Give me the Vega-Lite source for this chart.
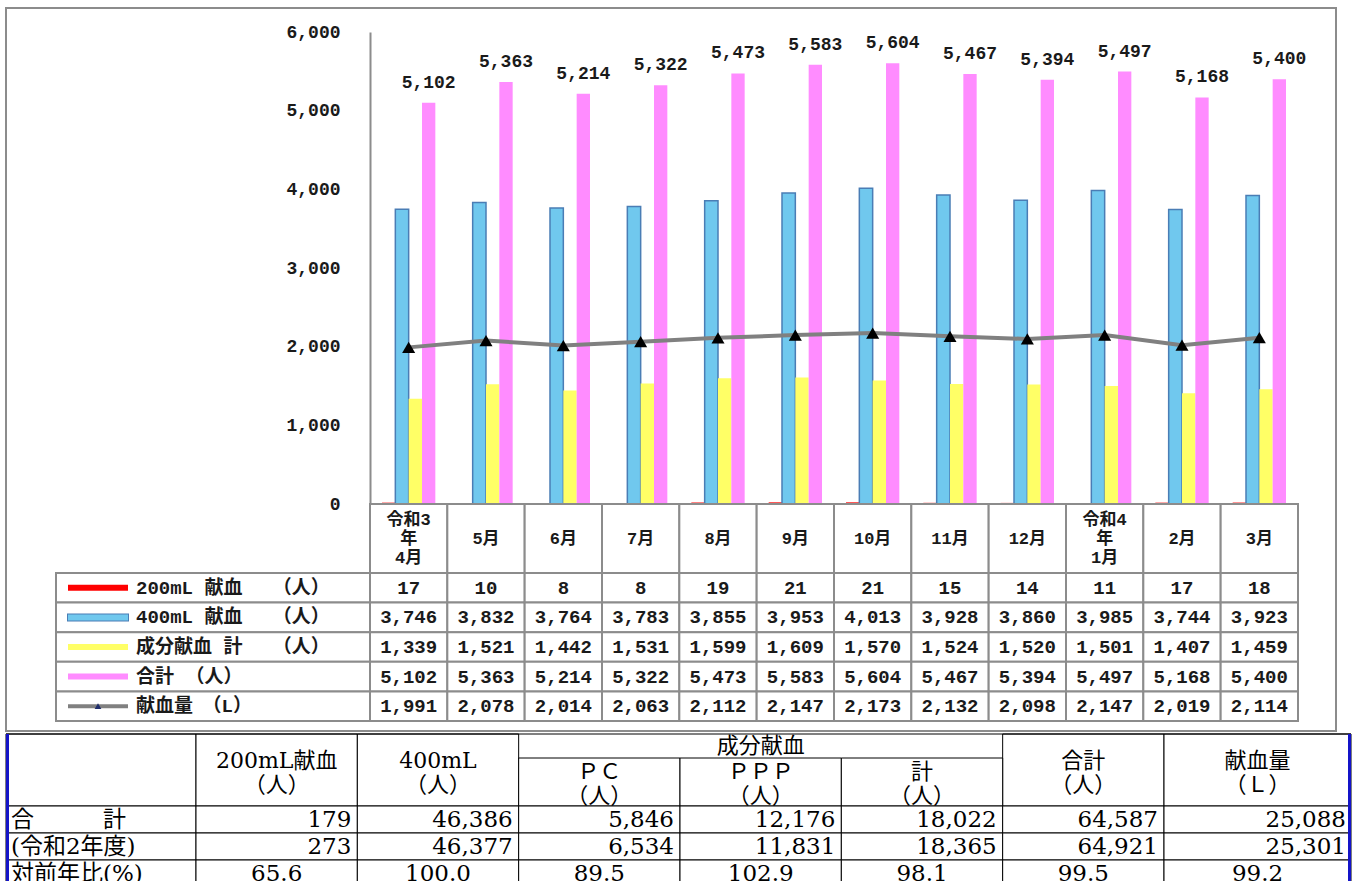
{
  "$schema": "https://vega.github.io/schema/vega-lite/v6.json",
  "padding": {"left": 5, "top": 7, "right": 0, "bottom": 0},
  "background": "white",
  "bounds": "flush",
  "spacing": 3,
  "config": {"view": {"stroke": null}, "font": "DejaVu Sans"},
  "datasets": {
    "monthly": [
      {"month": "令和3\n年\n4月", "m200": 17, "m400": 3746, "comp": 1339, "total": 5102, "vol": 1991},
      {"month": "5月", "m200": 10, "m400": 3832, "comp": 1521, "total": 5363, "vol": 2078},
      {"month": "6月", "m200": 8, "m400": 3764, "comp": 1442, "total": 5214, "vol": 2014},
      {"month": "7月", "m200": 8, "m400": 3783, "comp": 1531, "total": 5322, "vol": 2063},
      {"month": "8月", "m200": 19, "m400": 3855, "comp": 1599, "total": 5473, "vol": 2112},
      {"month": "9月", "m200": 21, "m400": 3953, "comp": 1609, "total": 5583, "vol": 2147},
      {"month": "10月", "m200": 21, "m400": 4013, "comp": 1570, "total": 5604, "vol": 2173},
      {"month": "11月", "m200": 15, "m400": 3928, "comp": 1524, "total": 5467, "vol": 2132},
      {"month": "12月", "m200": 14, "m400": 3860, "comp": 1520, "total": 5394, "vol": 2098},
      {"month": "令和4\n年\n1月", "m200": 11, "m400": 3985, "comp": 1501, "total": 5497, "vol": 2147},
      {"month": "2月", "m200": 17, "m400": 3744, "comp": 1407, "total": 5168, "vol": 2019},
      {"month": "3月", "m200": 18, "m400": 3923, "comp": 1459, "total": 5400, "vol": 2114}
    ],
    "legend": [
      {"series": "m200", "label": "200mL 献血　 （人）"},
      {"series": "m400", "label": "400mL 献血　 （人）"},
      {"series": "comp", "label": "成分献血 計　 （人）"},
      {"series": "total", "label": "合計 （人）"},
      {"series": "vol", "label": "献血量　（L）"}
    ],
    "sumHeader": [
      {"col": "label", "text": "", "level": "cell"},
      {"col": "c200", "text": "200mL献血\n（人）", "level": "cell"},
      {"col": "c400", "text": "400mL\n（人）", "level": "cell"},
      {"col": "cPC", "text": "ＰＣ\n（人）", "level": "cell"},
      {"col": "cPPP", "text": "ＰＰＰ\n（人）", "level": "cell"},
      {"col": "cSum", "text": "計\n（人）", "level": "cell"},
      {"col": "cTot", "text": "合計\n（人）", "level": "cell"},
      {"col": "vol", "text": "献血量\n（Ｌ）", "level": "cell"},
      {"col": "cPPP", "text": "成分献血", "level": "group"}
    ],
    "sumBody": [
      {"row": "合　　　計", "col": "label"},
      {"row": "(令和2年度)", "col": "label"},
      {"row": "対前年比(%)", "col": "label"},
      {"row": "合　　　計", "col": "c200", "value": 179},
      {"row": "合　　　計", "col": "c400", "value": 46386},
      {"row": "合　　　計", "col": "cPC", "value": 5846},
      {"row": "合　　　計", "col": "cPPP", "value": 12176},
      {"row": "合　　　計", "col": "cSum", "value": 18022},
      {"row": "合　　　計", "col": "cTot", "value": 64587},
      {"row": "合　　　計", "col": "vol", "value": 25088},
      {"row": "(令和2年度)", "col": "c200", "value": 273},
      {"row": "(令和2年度)", "col": "c400", "value": 46377},
      {"row": "(令和2年度)", "col": "cPC", "value": 6534},
      {"row": "(令和2年度)", "col": "cPPP", "value": 11831},
      {"row": "(令和2年度)", "col": "cSum", "value": 18365},
      {"row": "(令和2年度)", "col": "cTot", "value": 64921},
      {"row": "(令和2年度)", "col": "vol", "value": 25301},
      {"row": "対前年比(%)", "col": "c200", "value": 65.6},
      {"row": "対前年比(%)", "col": "c400", "value": 100.0},
      {"row": "対前年比(%)", "col": "cPC", "value": 89.5},
      {"row": "対前年比(%)", "col": "cPPP", "value": 102.9},
      {"row": "対前年比(%)", "col": "cSum", "value": 98.1},
      {"row": "対前年比(%)", "col": "cTot", "value": 99.5},
      {"row": "対前年比(%)", "col": "vol", "value": 99.2}
    ]
  },
  "vconcat": [
    {
      "width": 1330,
      "height": 723,
      "view": {"stroke": "#8c8c8c", "strokeWidth": 2},
      "data": {"name": "monthly"},
      "encoding": {
        "x": {
          "field": "month", "type": "nominal", "sort": null,
          "scale": {
            "domain": ["令和3\n年\n4月", "5月", "6月", "7月", "8月", "9月", "10月", "11月", "12月", "令和4\n年\n1月", "2月", "3月"],
            "range": [364, 1292], "paddingInner": 0, "paddingOuter": 0
          },
          "axis": null
        }
      },
      "layer": [
        {
          "layer": [
            {
              "transform": [{"fold": ["m200", "m400", "comp", "total"], "as": ["series", "value"]}],
              "mark": {"type": "bar", "strokeWidth": 1.5},
              "encoding": {
                "xOffset": {"field": "series", "type": "nominal", "scale": {"domain": ["m200", "m400", "comp", "total"], "paddingInner": 0, "paddingOuter": 0.9}},
                "y": {
                  "field": "value", "type": "quantitative",
                  "scale": {"domain": [0, 6000], "range": [496, 24], "nice": false, "zero": true},
                  "axis": {
                    "values": [0, 1000, 2000, 3000, 4000, 5000, 6000], "format": ",.0f", "offset": -364,
                    "title": null, "ticks": false, "grid": false, "domainColor": "#8c8c8c", "domainWidth": 2,
                    "labelFont": "Liberation Mono", "labelFontSize": 18, "labelFontWeight": "bold",
                    "labelColor": "#1a1a1a", "labelPadding": 30
                  }
                },
                "color": {"field": "series", "type": "nominal", "scale": {"domain": ["m200", "m400", "comp", "total", "vol"], "range": ["#ff0000", "#70c8ee", "#ffff66", "#ff8cff", "#808080"]}, "legend": null},
                "stroke": {"condition": {"test": "datum.series === 'm400'", "value": "#4a7db5"}, "value": null}
              }
            },
            {
              "mark": {"type": "line", "color": "#808080", "strokeWidth": 4},
              "encoding": {"y": {"field": "vol", "type": "quantitative", "title": null}}
            },
            {
              "mark": {"type": "point", "shape": "triangle-up", "filled": true, "color": "#000000", "size": 170, "opacity": 1},
              "encoding": {"y": {"field": "vol", "type": "quantitative", "title": null}}
            },
            {
              "transform": [{"fold": ["total"], "as": ["series", "value"]}],
              "mark": {"type": "text", "dy": -20, "font": "Liberation Mono", "fontSize": 18, "fontWeight": "bold", "color": "#1a1a1a", "baseline": "middle"},
              "encoding": {
                "xOffset": {"field": "series", "type": "nominal", "scale": {"domain": ["m200", "m400", "comp", "total"], "paddingInner": 0, "paddingOuter": 0.9}},
                "y": {"field": "value", "type": "quantitative", "title": null},
                "text": {"field": "value", "type": "quantitative", "format": ","}
              }
            }
          ]
        },
        {
          "encoding": {"y": {"datum": "hdr", "type": "nominal", "scale": {"domain": ["hdr"], "range": [496, 565], "paddingInner": 0, "paddingOuter": 0}, "axis": null}},
          "layer": [
            {"mark": {"type": "rect", "fill": "white", "stroke": "#8c8c8c", "strokeWidth": 2}},
            {
              "transform": [{"filter": "indexof(datum.month, '年') < 0"}],
              "mark": {"type": "text", "font": "Liberation Mono, Noto Sans CJK JP", "fontSize": 17, "fontWeight": "bold", "baseline": "middle", "color": "#1a1a1a"},
              "encoding": {"text": {"field": "month", "type": "nominal"}}
            },
            {
              "transform": [{"filter": "indexof(datum.month, '年') >= 0"}],
              "mark": {"type": "text", "font": "Liberation Mono, Noto Sans CJK JP", "fontSize": 17, "fontWeight": "bold", "lineBreak": "\n", "lineHeight": 19, "baseline": "middle", "dy": -19, "color": "#1a1a1a"},
              "encoding": {"text": {"field": "month", "type": "nominal"}}
            }
          ]
        },
        {
          "encoding": {"y": {"field": "series", "type": "nominal", "scale": {"domain": ["m200", "m400", "comp", "total", "vol"], "range": [565, 713], "paddingInner": 0, "paddingOuter": 0}, "axis": null}},
          "layer": [
            {
              "transform": [{"fold": ["m200", "m400", "comp", "total", "vol"], "as": ["series", "value"]}],
              "mark": {"type": "rect", "fill": "white", "stroke": "#8c8c8c", "strokeWidth": 2}
            },
            {
              "transform": [{"fold": ["m200", "m400", "comp", "total", "vol"], "as": ["series", "value"]}],
              "mark": {"type": "text", "font": "Liberation Mono", "fontSize": 19, "fontWeight": "bold", "color": "#1a1a1a", "baseline": "middle"},
              "encoding": {"text": {"field": "value", "type": "quantitative", "format": ","}}
            },
            {
              "data": {"name": "legend"},
              "mark": {"type": "rect", "fill": "white", "stroke": "#8c8c8c", "strokeWidth": 2},
              "encoding": {"x": {"value": 50}, "x2": {"value": 364}}
            },
            {
              "data": {"name": "legend"},
              "transform": [{"filter": "datum.series === 'm400'"}],
              "mark": {"type": "rule", "color": "#4a7db5", "strokeWidth": 8},
              "encoding": {"x": {"value": 61}, "x2": {"value": 123}}
            },
            {
              "data": {"name": "legend"},
              "mark": {"type": "rule"},
              "encoding": {
                "x": {"value": 62}, "x2": {"value": 122},
                "color": {"field": "series", "type": "nominal", "scale": {"domain": ["m200", "m400", "comp", "total", "vol"], "range": ["#ff0000", "#70c8ee", "#ffff66", "#ff8cff", "#808080"]}, "legend": null},
                "strokeWidth": {"condition": {"test": "datum.series === 'vol'", "value": 4}, "value": 6}
              }
            },
            {
              "data": {"name": "legend"},
              "transform": [{"filter": "datum.series === 'vol'"}],
              "mark": {"type": "point", "shape": "triangle-up", "filled": true, "color": "#1f2d6b", "size": 45, "opacity": 1},
              "encoding": {"x": {"value": 92}}
            },
            {
              "data": {"name": "legend"},
              "mark": {"type": "text", "align": "left", "baseline": "middle", "font": "Liberation Mono, Noto Sans CJK JP", "fontSize": 19, "fontWeight": "bold", "color": "#1a1a1a"},
              "encoding": {"x": {"value": 130}, "text": {"field": "label", "type": "nominal"}}
            }
          ]
        }
      ],
      "resolve": {"scale": {"y": "independent"}}
    },
    {
      "width": 1345,
      "height": 153,
      "layer": [
        {
          "data": {"name": "sumHeader"},
          "transform": [{"filter": "datum.col === 'label'"}],
          "mark": {"type": "rect", "fill": "white", "stroke": "#000000", "strokeWidth": 1},
          "encoding": {
            "x": {"field": "col", "type": "nominal", "scale": {"domain": ["label"], "range": [0, 190], "paddingInner": 0, "paddingOuter": 0}, "axis": null},
            "y": {"datum": 0, "type": "quantitative", "scale": {"domain": [0, 3], "range": [0, 72], "nice": false, "zero": false}, "axis": null},
            "y2": {"datum": 3}
          }
        },
        {
          "data": {"name": "sumHeader"},
          "layer": [
            {
              "transform": [{"filter": "datum.level === 'cell' && (datum.col === 'c200' || datum.col === 'c400' || datum.col === 'cTot')"}],
              "mark": {"type": "rect", "fill": "white", "stroke": "#000000", "strokeWidth": 1},
              "encoding": {
                "x": {"field": "col", "type": "nominal", "scale": {"domain": ["c200", "c400", "cPC", "cPPP", "cSum", "cTot"], "range": [190, 1158], "paddingInner": 0, "paddingOuter": 0}, "axis": null},
                "y": {"datum": 0, "type": "quantitative", "scale": {"domain": [0, 3], "range": [0, 72], "nice": false, "zero": false}, "axis": null},
                "y2": {"datum": 3}
              }
            },
            {
              "transform": [{"filter": "datum.level === 'cell' && (datum.col === 'cPC' || datum.col === 'cPPP' || datum.col === 'cSum')"}],
              "mark": {"type": "rect", "fill": "white", "stroke": "#000000", "strokeWidth": 1},
              "encoding": {
                "x": {"field": "col", "type": "nominal", "scale": {"domain": ["c200", "c400", "cPC", "cPPP", "cSum", "cTot"], "range": [190, 1158], "paddingInner": 0, "paddingOuter": 0}, "axis": null},
                "y": {"datum": 1, "type": "quantitative", "scale": {"domain": [0, 3], "range": [0, 72], "nice": false, "zero": false}, "axis": null},
                "y2": {"datum": 3}
              }
            },
            {
              "transform": [{"filter": "datum.level === 'cell' && (datum.col === 'c200' || datum.col === 'c400' || datum.col === 'cTot')"}],
              "mark": {"type": "text", "font": "DejaVu Serif, Noto Sans CJK JP", "fontSize": 22, "lineBreak": "\n", "lineHeight": 24, "baseline": "middle", "dy": -9, "color": "#000000"},
              "encoding": {
                "x": {"field": "col", "type": "nominal", "scale": {"domain": ["c200", "c400", "cPC", "cPPP", "cSum", "cTot"], "range": [190, 1158], "paddingInner": 0, "paddingOuter": 0}, "axis": null},
                "y": {"datum": 1.5, "type": "quantitative", "scale": {"domain": [0, 3], "range": [0, 72], "nice": false, "zero": false}, "axis": null},
                "text": {"field": "text", "type": "nominal"}
              }
            },
            {
              "transform": [{"filter": "datum.level === 'cell' && (datum.col === 'cPC' || datum.col === 'cPPP' || datum.col === 'cSum')"}],
              "mark": {"type": "text", "font": "DejaVu Serif, Noto Sans CJK JP", "fontSize": 22, "lineBreak": "\n", "lineHeight": 24, "baseline": "middle", "dy": -10, "color": "#000000"},
              "encoding": {
                "x": {"field": "col", "type": "nominal", "scale": {"domain": ["c200", "c400", "cPC", "cPPP", "cSum", "cTot"], "range": [190, 1158], "paddingInner": 0, "paddingOuter": 0}, "axis": null},
                "y": {"datum": 2, "type": "quantitative", "scale": {"domain": [0, 3], "range": [0, 72], "nice": false, "zero": false}, "axis": null},
                "text": {"field": "text", "type": "nominal"}
              }
            },
            {
              "transform": [{"filter": "datum.level === 'group'"}],
              "mark": {"type": "text", "font": "DejaVu Serif, Noto Sans CJK JP", "fontSize": 22, "baseline": "middle", "color": "#000000"},
              "encoding": {
                "x": {"field": "col", "type": "nominal", "scale": {"domain": ["c200", "c400", "cPC", "cPPP", "cSum", "cTot"], "range": [190, 1158], "paddingInner": 0, "paddingOuter": 0}, "axis": null},
                "y": {"datum": 0.5, "type": "quantitative", "scale": {"domain": [0, 3], "range": [0, 72], "nice": false, "zero": false}, "axis": null},
                "text": {"field": "text", "type": "nominal"}
              }
            }
          ]
        },
        {
          "data": {"name": "sumHeader"},
          "transform": [{"filter": "datum.col === 'vol'"}],
          "layer": [
            {
              "mark": {"type": "rect", "fill": "white", "stroke": "#000000", "strokeWidth": 1},
              "encoding": {
                "x": {"field": "col", "type": "nominal", "scale": {"domain": ["vol"], "range": [1158, 1345], "paddingInner": 0, "paddingOuter": 0}, "axis": null},
                "y": {"datum": 0, "type": "quantitative", "scale": {"domain": [0, 3], "range": [0, 72], "nice": false, "zero": false}, "axis": null},
                "y2": {"datum": 3}
              }
            },
            {
              "mark": {"type": "text", "font": "DejaVu Serif, Noto Sans CJK JP", "fontSize": 22, "lineBreak": "\n", "lineHeight": 24, "baseline": "middle", "dy": -9, "color": "#000000"},
              "encoding": {
                "x": {"field": "col", "type": "nominal", "scale": {"domain": ["vol"], "range": [1158, 1345], "paddingInner": 0, "paddingOuter": 0}, "axis": null},
                "y": {"datum": 1.5, "type": "quantitative", "scale": {"domain": [0, 3], "range": [0, 72], "nice": false, "zero": false}, "axis": null},
                "text": {"field": "text", "type": "nominal"}
              }
            }
          ]
        },
        {
          "data": {"values": [{}]},
          "mark": {"type": "rule", "color": "#000000", "strokeWidth": 1},
          "encoding": {"y": {"datum": 0, "type": "quantitative", "scale": {"domain": [0, 3], "range": [0, 72], "nice": false, "zero": false}, "axis": null}}
        },
        {
          "data": {"name": "sumBody"},
          "transform": [{"filter": "datum.col === 'label'"}],
          "encoding": {
            "y": {"field": "row", "type": "nominal", "scale": {"domain": ["合　　　計", "(令和2年度)", "対前年比(%)"], "range": [72, 153], "paddingInner": 0, "paddingOuter": 0}, "axis": null}
          },
          "layer": [
            {
              "mark": {"type": "rect", "fill": "white", "stroke": "#000000", "strokeWidth": 1},
              "encoding": {"x": {"field": "col", "type": "nominal", "scale": {"domain": ["label"], "range": [0, 190], "paddingInner": 0, "paddingOuter": 0}, "axis": null}}
            },
            {
              "mark": {"type": "text", "align": "left", "dx": 5, "baseline": "middle", "font": "DejaVu Serif, Noto Sans CJK JP", "fontSize": 23, "color": "#000000"},
              "encoding": {
                "x": {"field": "col", "type": "nominal", "bandPosition": 0, "scale": {"domain": ["label"], "range": [0, 190], "paddingInner": 0, "paddingOuter": 0}, "axis": null},
                "text": {"field": "row", "type": "nominal"}
              }
            }
          ]
        },
        {
          "data": {"name": "sumBody"},
          "transform": [{"filter": "datum.col !== 'label' && datum.col !== 'vol'"}],
          "encoding": {
            "y": {"field": "row", "type": "nominal", "scale": {"domain": ["合　　　計", "(令和2年度)", "対前年比(%)"], "range": [72, 153], "paddingInner": 0, "paddingOuter": 0}, "axis": null}
          },
          "layer": [
            {
              "mark": {"type": "rect", "fill": "white", "stroke": "#000000", "strokeWidth": 1},
              "encoding": {"x": {"field": "col", "type": "nominal", "scale": {"domain": ["c200", "c400", "cPC", "cPPP", "cSum", "cTot"], "range": [190, 1158], "paddingInner": 0, "paddingOuter": 0}, "axis": null}}
            },
            {
              "transform": [{"filter": "datum.row !== '対前年比(%)'"}],
              "mark": {"type": "text", "align": "right", "dx": -6, "baseline": "middle", "font": "DejaVu Serif, Noto Sans CJK JP", "fontSize": 23, "color": "#000000"},
              "encoding": {
                "x": {"field": "col", "type": "nominal", "bandPosition": 1, "scale": {"domain": ["c200", "c400", "cPC", "cPPP", "cSum", "cTot"], "range": [190, 1158], "paddingInner": 0, "paddingOuter": 0}, "axis": null},
                "text": {"field": "value", "type": "quantitative", "format": ","}
              }
            },
            {
              "transform": [{"filter": "datum.row === '対前年比(%)'"}],
              "mark": {"type": "text", "align": "center", "baseline": "middle", "font": "DejaVu Serif, Noto Sans CJK JP", "fontSize": 23, "color": "#000000"},
              "encoding": {
                "x": {"field": "col", "type": "nominal", "scale": {"domain": ["c200", "c400", "cPC", "cPPP", "cSum", "cTot"], "range": [190, 1158], "paddingInner": 0, "paddingOuter": 0}, "axis": null},
                "text": {"field": "value", "type": "quantitative", "format": ".1f"}
              }
            }
          ]
        },
        {
          "data": {"name": "sumBody"},
          "transform": [{"filter": "datum.col === 'vol'"}],
          "encoding": {
            "y": {"field": "row", "type": "nominal", "scale": {"domain": ["合　　　計", "(令和2年度)", "対前年比(%)"], "range": [72, 153], "paddingInner": 0, "paddingOuter": 0}, "axis": null}
          },
          "layer": [
            {
              "mark": {"type": "rect", "fill": "white", "stroke": "#000000", "strokeWidth": 1},
              "encoding": {"x": {"field": "col", "type": "nominal", "scale": {"domain": ["vol"], "range": [1158, 1345], "paddingInner": 0, "paddingOuter": 0}, "axis": null}}
            },
            {
              "transform": [{"filter": "datum.row !== '対前年比(%)'"}],
              "mark": {"type": "text", "align": "right", "dx": -5, "baseline": "middle", "font": "DejaVu Serif, Noto Sans CJK JP", "fontSize": 23, "color": "#000000"},
              "encoding": {
                "x": {"field": "col", "type": "nominal", "bandPosition": 1, "scale": {"domain": ["vol"], "range": [1158, 1345], "paddingInner": 0, "paddingOuter": 0}, "axis": null},
                "text": {"field": "value", "type": "quantitative", "format": ","}
              }
            },
            {
              "transform": [{"filter": "datum.row === '対前年比(%)'"}],
              "mark": {"type": "text", "align": "center", "baseline": "middle", "font": "DejaVu Serif, Noto Sans CJK JP", "fontSize": 23, "color": "#000000"},
              "encoding": {
                "x": {"field": "col", "type": "nominal", "scale": {"domain": ["vol"], "range": [1158, 1345], "paddingInner": 0, "paddingOuter": 0}, "axis": null},
                "text": {"field": "value", "type": "quantitative", "format": ".1f"}
              }
            }
          ]
        },
        {
          "data": {"values": [{}]},
          "mark": {"type": "rule", "color": "#1414c8", "strokeWidth": 3},
          "encoding": {"x": {"value": 1.5}}
        },
        {
          "data": {"values": [{}]},
          "mark": {"type": "rule", "color": "#1414c8", "strokeWidth": 3},
          "encoding": {"x": {"value": 1343.5}}
        }
      ],
      "resolve": {"scale": {"x": "independent", "y": "independent"}}
    }
  ]
}
